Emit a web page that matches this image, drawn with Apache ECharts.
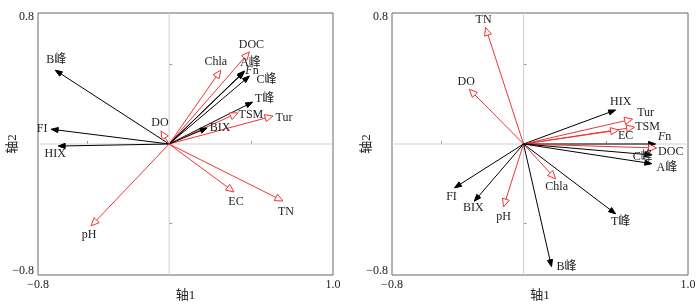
<!DOCTYPE html>
<html>
<head>
<meta charset="utf-8">
<script src="https://cdn.jsdelivr.net/npm/echarts@6/dist/echarts.min.js"></script>
<style>
  html, body { margin: 0; padding: 0; background: #fff; }
  #main { width: 698px; height: 308px; }
</style>
</head>
<body>
<div id="main"></div>
<script>
// 变量名称 / 坐标（轴1, 轴2）/ 类型：0 = 荧光指标(黑), 1 = 环境因子(红)
var names1 = ['B峰', 'FI', 'HIX', 'DO', 'Chla', 'DOC', 'A峰', 'Fn', 'C峰', 'T峰', 'TSM', 'Tur', 'BIX', 'pH', 'EC', 'TN'];
var axis1A = [-0.695, -0.72, -0.677, -0.05, 0.315, 0.49, 0.46, 0.457, 0.49, 0.51, 0.42, 0.634, 0.232, -0.476, 0.396, 0.695];
var axis2A = [0.465, 0.093, -0.013, 0.082, 0.465, 0.58, 0.46, 0.453, 0.428, 0.264, 0.196, 0.176, 0.101, -0.516, -0.302, -0.359];
var kind1 = [0, 0, 0, 1, 1, 1, 0, 0, 0, 0, 1, 1, 0, 1, 1, 1];

var names2 = ['TN', 'DO', 'HIX', 'Tur', 'TSM', 'EC', 'Fn', 'DOC', 'C峰', 'A峰', 'FI', 'BIX', 'pH', 'Chla', 'T峰', 'B峰'];
var axis1B = [-0.231, -0.33, 0.56, 0.663, 0.675, 0.578, 0.803, 0.81, 0.78, 0.78, -0.42, -0.3, -0.122, 0.195, 0.56, 0.17];
var axis2B = [0.734, 0.345, 0.214, 0.157, 0.106, 0.088, 0, -0.025, -0.069, -0.124, -0.276, -0.361, -0.396, -0.22, -0.44, -0.773];
var kind2 = [1, 1, 0, 1, 1, 1, 0, 1, 0, 0, 0, 0, 1, 1, 0, 0];

// 标签相对箭头端点的偏移(px)
var labelOff1 = [[1, -10], [-9, 0], [-3, 8], [-1, -8], [-5, -8], [2, -7], [6, -8], [8, -1], [17, 4], [12, -3], [13, 2], [11, 2], [13, 0], [-2, 9], [2, 10], [3, 11]];
var labelOff2 = [[-2, -8], [-3, -7], [5, -8], [13, -6], [13, 0], [7, 6], [9, -7], [14, 4], [-9, 2], [15, 4], [-3, 9], [-1, 7], [0, 10], [1, 8], [5, 8], [15, 0]];

var BLACK = '#000';
var RED = '#f03434';
var SERIF = '"Liberation Serif", "Noto Sans CJK SC", serif';

function makeData(names, xs, ys, kinds, offs) {
    return names.map(function (n, i) {
        return { name: n, value: [xs[i], ys[i], kinds[i], offs[i][0], offs[i][1]] };
    });
}

function renderArrow(params, api) {
    var o = api.coord([0, 0]);
    var p = api.coord([api.value(0), api.value(1)]);
    var red = api.value(2) === 1;
    var dx = p[0] - o[0], dy = p[1] - o[1];
    var len = Math.sqrt(dx * dx + dy * dy);
    var ux = dx / len, uy = dy / len;
    var hl = red ? 8 : 7, hw = red ? 3.6 : 2.6;
    var bx = p[0] - ux * hl, by = p[1] - uy * hl;
    var nx = -uy, ny = ux;
    var color = red ? RED : BLACK;
    var label = (params.seriesIndex === 1 ? names1 : names2)[params.dataIndex];
    var txt = label === 'Fn' ? '{i|F}{n|n}' : label;
    return {
        type: 'group',
        children: [{
            type: 'line',
            shape: { x1: o[0], y1: o[1], x2: red ? bx : p[0] - ux * 2, y2: red ? by : p[1] - uy * 2 },
            style: { stroke: color, lineWidth: 1 }
        }, {
            type: 'polygon',
            shape: { points: [[p[0], p[1]], [bx + nx * hw, by + ny * hw], [bx - nx * hw, by - ny * hw]] },
            style: { fill: red ? '#fff' : color, stroke: color, lineWidth: 1 }
        }, {
            type: 'text',
            z2: 10,
            style: {
                text: txt,
                x: p[0] + api.value(3),
                y: p[1] + api.value(4),
                align: 'center',
                verticalAlign: 'middle',
                font: '12px ' + SERIF,
                fill: '#222',
                rich: {
                    i: { fontStyle: 'italic', fontSize: 12, fontFamily: SERIF, fill: '#222' },
                    n: { fontStyle: 'normal', fontSize: 12, fontFamily: SERIF, fill: '#222' }
                }
            }
        }]
    };
}

function renderCross(params, api) {
    var cs = params.coordSys;
    var o = api.coord([0, 0]);
    return {
        type: 'group',
        children: [{
            type: 'line',
            shape: { x1: o[0], y1: cs.y, x2: o[0], y2: cs.y + cs.height },
            style: { stroke: '#cfcfcf', lineWidth: 1 }
        }, {
            type: 'line',
            shape: { x1: cs.x, y1: o[1], x2: cs.x + cs.width, y2: o[1] },
            style: { stroke: '#cfcfcf', lineWidth: 1 }
        }]
    };
}

function fmt(v) {
    return (v < 0 ? '\u2212' : '') + Math.abs(v).toFixed(1);
}

function xAxisOf(idx) {
    return {
        gridIndex: idx, type: 'value', min: -0.8, max: 1.0,
        name: '轴1', nameLocation: 'middle', nameGap: 14, nameMoveOverlap: false,
        nameTextStyle: { fontFamily: SERIF, fontSize: 13, color: '#222' },
        axisLine: { show: false },
        axisTick: { show: true, inside: true, length: 3, customValues: [-0.5, 0.5], lineStyle: { color: '#999' } },
        axisLabel: { customValues: [-0.8, 1.0], formatter: fmt, margin: 4, fontFamily: SERIF, fontSize: 12, color: '#222' },
        splitLine: { show: false }
    };
}

function yAxisOf(idx) {
    return {
        gridIndex: idx, type: 'value', min: -0.825, max: 0.825,
        name: '轴2', nameLocation: 'middle', nameGap: 19, nameRotate: 90, nameMoveOverlap: false,
        nameTextStyle: { fontFamily: SERIF, fontSize: 13, color: '#222' },
        axisLine: { show: false },
        axisTick: { show: true, inside: true, length: 3, customValues: [-0.5, 0.5], lineStyle: { color: '#999' } },
        axisLabel: { customValues: [-0.8, 0.8], formatter: fmt, margin: 4, fontFamily: SERIF, fontSize: 12, color: '#222' },
        splitLine: { show: false }
    };
}

var chart = echarts.init(document.getElementById('main'), null, { renderer: 'canvas' });
chart.setOption({
    backgroundColor: '#fff',
    animation: false,
    grid: [
        { left: 38, top: 13, width: 295, height: 262, show: true, borderColor: '#666', borderWidth: 1, containLabel: false, outerBoundsMode: 'none' },
        { left: 392, top: 13, width: 296, height: 262, show: true, borderColor: '#666', borderWidth: 1, containLabel: false, outerBoundsMode: 'none' }
    ],
    xAxis: [xAxisOf(0), xAxisOf(1)],
    yAxis: [yAxisOf(0), yAxisOf(1)],
    series: [
        { type: 'custom', xAxisIndex: 0, yAxisIndex: 0, z: 1, silent: true, data: [[0, 0]], renderItem: renderCross },
        { type: 'custom', xAxisIndex: 0, yAxisIndex: 0, z: 2, silent: true, data: makeData(names1, axis1A, axis2A, kind1, labelOff1), renderItem: renderArrow },
        { type: 'custom', xAxisIndex: 1, yAxisIndex: 1, z: 1, silent: true, data: [[0, 0]], renderItem: renderCross },
        { type: 'custom', xAxisIndex: 1, yAxisIndex: 1, z: 2, silent: true, data: makeData(names2, axis1B, axis2B, kind2, labelOff2), renderItem: renderArrow }
    ]
});
</script>
</body>
</html>
